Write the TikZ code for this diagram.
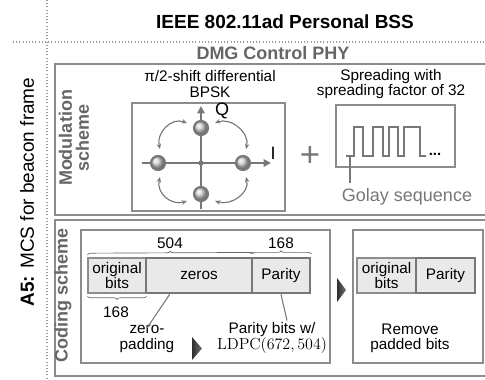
\documentclass[tikz,border=0pt]{standalone}
\usepackage[no-math]{fontspec}
\setmainfont{Liberation Sans}
\usetikzlibrary{arrows.meta,decorations.pathreplacing,calc,fit}
\definecolor{frame}{HTML}{8C8C8C}
\definecolor{ink}{HTML}{777777}
\definecolor{head}{HTML}{666666}
\definecolor{cell}{HTML}{E9E9E9}
\definecolor{dots}{HTML}{9A9A9A}
\newcommand\pxfont[2]{\fontsize{#1}{#2}\selectfont}
\tikzset{
  sect/.style={draw=frame, line width=1.1pt, inner sep=0pt},
  thinbox/.style={draw=frame, line width=0.9pt, inner sep=0pt},
  cellthin/.style={draw=frame, fill=cell, line width=0.8pt, inner sep=0pt, minimum height=26.25pt, align=center, font=\pxfont{11.5}{11.5}},
  cellthick/.style={draw=ink, fill=cell, line width=2pt, inner sep=0pt, minimum height=26.25pt, align=center, font=\pxfont{11.5}{11.5}},
  body/.style={align=center, font=\pxfont{11.5}{11.5}, inner sep=0pt},
  guide/.style={draw=dots, line width=0.8pt, dash pattern=on 0.8pt off 1.6pt},
  axis/.style={draw=ink, line width=2pt, -{Triangle[length=5.5pt,width=5.5pt]}},
  cpoint/.style={circle, minimum size=10.5pt, inner sep=0pt, draw=ink, line width=1.6pt, ball color=black!18},
  rot/.style={draw=ink, line width=0.85pt, {Stealth[length=4pt,width=3.4pt]}-{Stealth[length=4pt,width=3.4pt]}},
  wave/.style={draw=ink, line width=2pt, line join=miter},
  lead/.style={draw=ink, line width=0.8pt},
  brace/.style={draw=black!60, line width=0.5pt, decorate, decoration={brace, amplitude=2.4pt}},
  tri/.style={left color=black!82, right color=black!55}
}
\begin{document}
\begin{tikzpicture}[x=0.75pt, y=-0.75pt]
\useasboundingbox (0,0) rectangle (485,379);
\clip (0,0) rectangle (485,379);

% dotted guide lines
\coordinate (hL) at (13,42);  \coordinate (hR) at (485,42);
\coordinate (vT) at (47,0);   \coordinate (vB) at (47,379);
\draw[guide] (hL) -- (hR);
\draw[guide] (vT) -- (vB);

% headings
\node[font=\bfseries\pxfont{14.25}{14.25}] (title) at (285,22) {IEEE 802.11ad Personal BSS};
\node[font=\bfseries\pxfont{13.5}{13.5}, text=head] (dmg) at (273,53) {DMG Control PHY};
\node[rotate=90, font=\pxfont{14.25}{14.25}] (mcs) at (27,192) {\textbf{A5:} MCS for beacon frame};

% section frames
\node[sect, fit={(55,64)(495,215)}] (modsec) {};
\node[sect, fit={(55,220)(495,376)}] (codesec) {};
\node[rotate=90, align=center, font=\bfseries\pxfont{13.5}{12.8}, text=head] (modlab) at (74,138) {Modulation\\scheme};
\node[rotate=90, font=\bfseries\pxfont{13.5}{13.5}, text=head] (codlab) at (63,295) {Coding scheme};

% ---------- modulation: constellation ----------
\node[body, font=\pxfont{11.5}{12.6}] (bpsk) at (210,84) {π/2-shift differential\\BPSK};
\node[thinbox, fit={(132,103)(285,211)}] (cbox) {};
\coordinate (iW) at (142,163); \coordinate (iE) at (271,163);
\coordinate (qS) at (201,209); \coordinate (qN) at (201,106);
\draw[axis] (iW) -- (iE);
\draw[axis] (qS) -- (qN);
\node[circle, fill=ink, minimum size=4pt, inner sep=0pt] (org) at (201,163) {};
\node[cpoint] (pT) at (201,128) {};
\node[cpoint] (pB) at (201,194) {};
\node[cpoint] (pL) at (158,163) {};
\node[cpoint] (pR) at (243,163) {};
\node[font=\pxfont{13.5}{13.5}] (qlab) at (222,111) {Q};
\node[font=\pxfont{13.5}{13.5}] (ilab) at (273,153) {I};

% phase transitions between neighbouring points
\coordinate (ulA) at (187,123); \coordinate (ulB) at (160,149);
\coordinate (urA) at (215,123); \coordinate (urB) at (246,149);
\coordinate (llA) at (160,177); \coordinate (llB) at (187,201);
\coordinate (lrA) at (246,177); \coordinate (lrB) at (215,201);
\draw[rot] (ulA) .. controls (171,117) and (156,133) .. (ulB);
\draw[rot] (urA) .. controls (231,117) and (250,133) .. (urB);
\draw[rot] (llA) .. controls (156,193) and (171,206) .. (llB);
\draw[rot] (lrA) .. controls (250,193) and (231,206) .. (lrB);

\node[text=ink, font=\pxfont{26}{26}] (plus) at (310,156) {+};

% ---------- modulation: spreading ----------
\node[body] (spread) at (391,84) {Spreading with\\spreading factor of 32};
\node[thinbox, fit={(336,105)(455,167)}] (wbox) {};
\draw[wave] (346,156) -- (354,156) -- (354,127) -- (363,127) -- (363,156)
  -- (373,156) -- (373,127) -- (383,127) -- (383,156) -- (389,156)
  -- (389,127) -- (398,127) -- (398,156) -- (404,156) -- (404,127)
  -- (420,127) -- (420,156) -- (426,156);
\node[font=\bfseries\pxfont{11}{11}, inner sep=0pt] (more) at (435,154) {...};
\coordinate (wstart) at (350,157);
\node[text=ink, font=\pxfont{13.5}{13.5}] (golay) at (407,197) {Golay sequence};
\draw[lead] (wstart) -- ([yshift=1pt]wstart |- golay.north);

% ---------- coding: zero padding + LDPC ----------
\node[thinbox, fit={(81,230)(330,363)}] (stepA) {};
\node[thinbox, fit={(353,230)(483,363)}] (stepB) {};

\node[cellthin, minimum width=43.5pt] (origA) at (117,275.5) {original\\bits};
\node[cellthick, minimum width=79.5pt] (zeros) at (199,275.5) {zeros};
\node[cellthick, minimum width=43.5pt] (parA) at (281,275.5) {Parity};

\draw[brace] ([yshift=2pt]origA.north west) -- ([yshift=2pt]zeros.north east);
\node[body] (n504) at (170,243) {504};
\draw[brace] ([yshift=2pt]parA.north west) -- ([yshift=2pt]parA.north east);
\node[body] (n168a) at (281,243) {168};
\draw[brace] ([yshift=-2pt]origA.south east) -- ([yshift=-2pt]origA.south west);
\node[body] (n168b) at (116,312) {168};

\node[body] (zpad) at (147,339) {zero-\\padding};
\draw[lead] ($(zeros.south west)!0.23!(zeros.south east)$) -- ([yshift=-2pt]zpad.north);
\node[body] (parbits) at (272,338) {Parity bits w/\\$\mathrm{LDPC}(672, 504)$};
\draw[lead] (parA.south) -- ($(parbits.north)+(15,-2)$);

\shade[tri] (192,337) -- (202,348.5) -- (192,360) -- cycle;
\shade[tri] (337,278) -- (346,290) -- (337,302) -- cycle;

% ---------- coding: remove padding ----------
\node[cellthin, minimum width=44.25pt] (origB) at (386.5,275.5) {original\\bits};
\node[cellthick, minimum width=44.25pt] (parB) at (445.5,275.5) {Parity};
\node[body] (remove) at (410,338) {Remove\\padded bits};
\end{tikzpicture}
\end{document}
